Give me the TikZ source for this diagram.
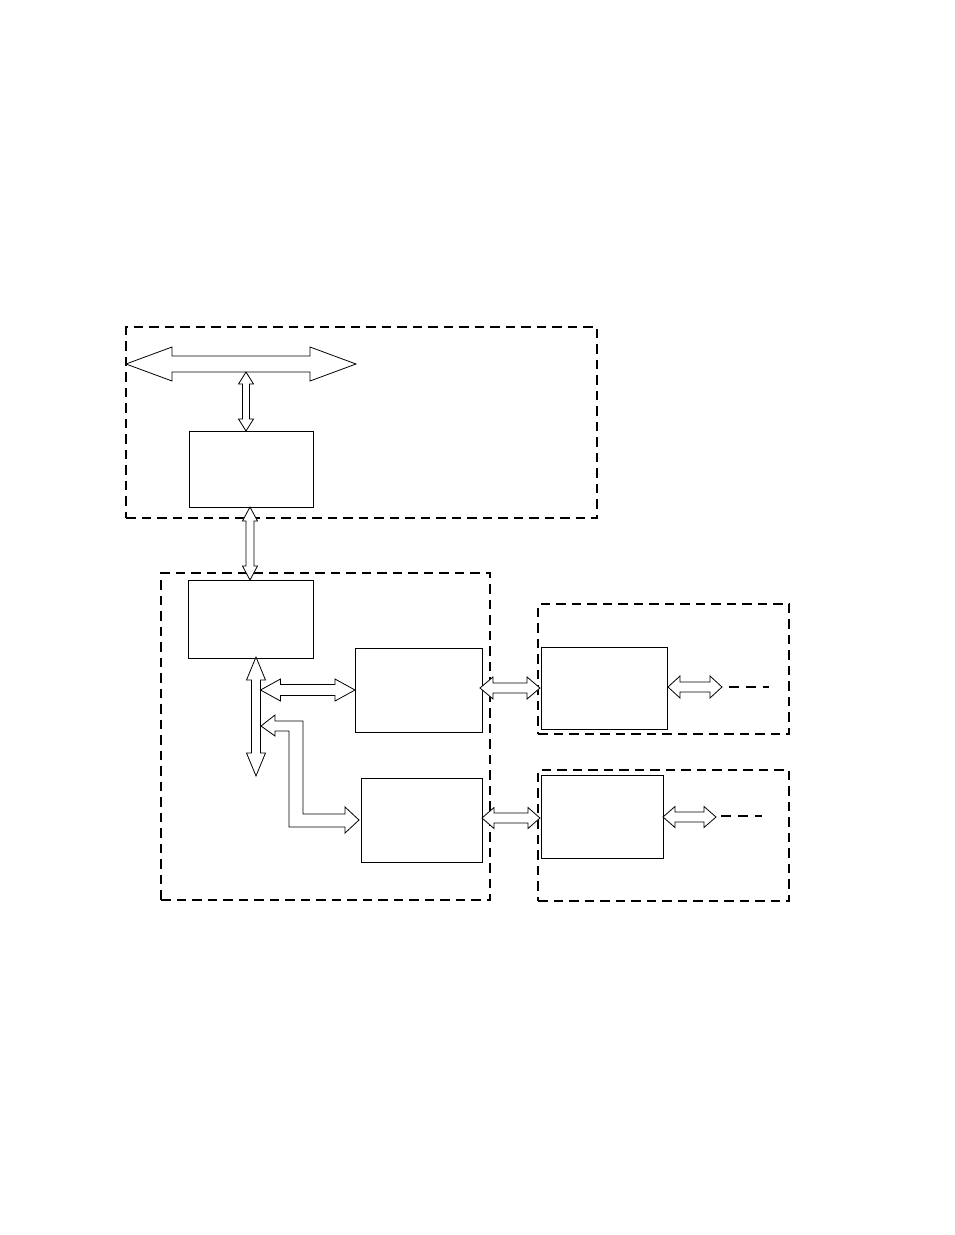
\documentclass[tikz,border=0pt]{standalone}
\usetikzlibrary{calc}
\tikzset{
  blk/.style={draw=black, line width=0.8pt, fill=none, inner sep=0pt, anchor=north west},
  grp/.style={draw=black, line width=2.4pt, dash pattern=on 9.5pt off 6pt, inner sep=0pt, anchor=north west},
  arrowline/.style={draw=black, line width=0.8pt, fill=white, line join=miter},
  dashline/.style={draw=black, line width=2pt, dash pattern=on 10pt off 7pt}
}
% horizontal double arrow: #1 left tip, #2 right tip, #3 shaft half, #4 head half, #5 head length
\newcommand\hdblarrow[5]{%
  \path[arrowline] let \p1=#1, \p2=#2 in
   (\x1,\y1) -- (\x1+#5,\y1+#4) -- (\x1+#5,\y1+#3) -- (\x2-#5,\y1+#3) -- (\x2-#5,\y1+#4)
   -- (\x2,\y1) -- (\x2-#5,\y1-#4) -- (\x2-#5,\y1-#3) -- (\x1+#5,\y1-#3) -- (\x1+#5,\y1-#4) -- cycle;}
% vertical double arrow: #1 top tip, #2 bottom tip
\newcommand\vdblarrow[5]{%
  \path[arrowline] let \p1=#1, \p2=#2 in
   (\x1,\y1) -- (\x1+#4,\y1-#5) -- (\x1+#3,\y1-#5) -- (\x1+#3,\y2+#5) -- (\x1+#4,\y2+#5)
   -- (\x1,\y2) -- (\x1-#4,\y2+#5) -- (\x1-#3,\y2+#5) -- (\x1-#3,\y1-#5) -- (\x1-#4,\y1-#5) -- cycle;}
\begin{document}
\begin{tikzpicture}[x=1pt,y=-1pt]
\useasboundingbox (0,0) rectangle (954,1235);
\fill[white] (0,0) rectangle (954,1235);

% dashed groups
\node[grp, minimum width=471pt, minimum height=191pt] (G1) at (125,326) {};
\node[grp, minimum width=329pt, minimum height=327pt] (G2) at (160,572) {};
\node[grp, minimum width=251pt, minimum height=130pt] (G3) at (537,603) {};
\node[grp, minimum width=251pt, minimum height=131pt] (G4) at (537,769) {};

% blocks
\node[blk, minimum width=124pt, minimum height=76pt] (A) at (189,431) {};
\node[blk, minimum width=125pt, minimum height=78pt] (B) at (188,580) {};
\node[blk, minimum width=127pt, minimum height=84pt] (C) at (355,648) {};
\node[blk, minimum width=121pt, minimum height=84pt] (D) at (361,778) {};
\node[blk, minimum width=126pt, minimum height=82pt] (E) at (541,647) {};
\node[blk, minimum width=122pt, minimum height=83pt] (F) at (541,775) {};

% coordinates for connector ends
\coordinate (busL) at (126,364);
\coordinate (busR) at (356,364);
\coordinate (busB) at (246,372);
\coordinate (Atop) at (246,431);
\coordinate (Abot) at (250,507);
\coordinate (Btop) at (250,580);
\coordinate (Bbot) at (256,657);
\coordinate (vEnd) at (256,776);
\coordinate (hStart) at (260.5,690);
\coordinate (Cin) at (355,690);
\coordinate (Cout) at (480,688);
\coordinate (Ein) at (540,688);
\coordinate (Eout) at (668,687);
\coordinate (Eend) at (722,687);
\coordinate (Dout) at (482,818);
\coordinate (Fin) at (540,818);
\coordinate (Fout) at (663,817);
\coordinate (Fend) at (716,817);
\coordinate (E1) at (729,687);
\coordinate (E2) at (769,687);
\coordinate (F1) at (721,816);
\coordinate (F2) at (762,816);

% arrows
\hdblarrow{(busL)}{(busR)}{8}{17}{46}
\vdblarrow{(busB)}{(Atop)}{3.5}{7.5}{12}
\vdblarrow{(Abot)}{(Btop)}{4}{7.5}{14}
\vdblarrow{(Bbot)}{(vEnd)}{4.5}{9.5}{23}
\hdblarrow{(hStart)}{(Cin)}{5.5}{11}{20}
\hdblarrow{(Cout)}{(Ein)}{5}{11}{13}
\hdblarrow{(Eout)}{(Eend)}{5}{11}{12}
\hdblarrow{(Dout)}{(Fin)}{5}{10.5}{12}
\hdblarrow{(Fout)}{(Fend)}{5}{10.5}{12}

% L-shaped arrow from vertical bus to D
\coordinate (Ltip) at (261,726);
\coordinate (Rtip) at (359,820);
\path[arrowline] (Ltip) -- (275,715) -- (275,721) -- (303,721) -- (303,814) -- (345,814)
  -- (345,807) -- (Rtip) -- (345,833) -- (345,827) -- (289,827) -- (289,731)
  -- (275,731) -- (275,736) -- cycle;

% dashed continuation lines
\draw[dashline] (E1) -- (E2);
\draw[dashline] (F1) -- (F2);
\end{tikzpicture}
\end{document}
